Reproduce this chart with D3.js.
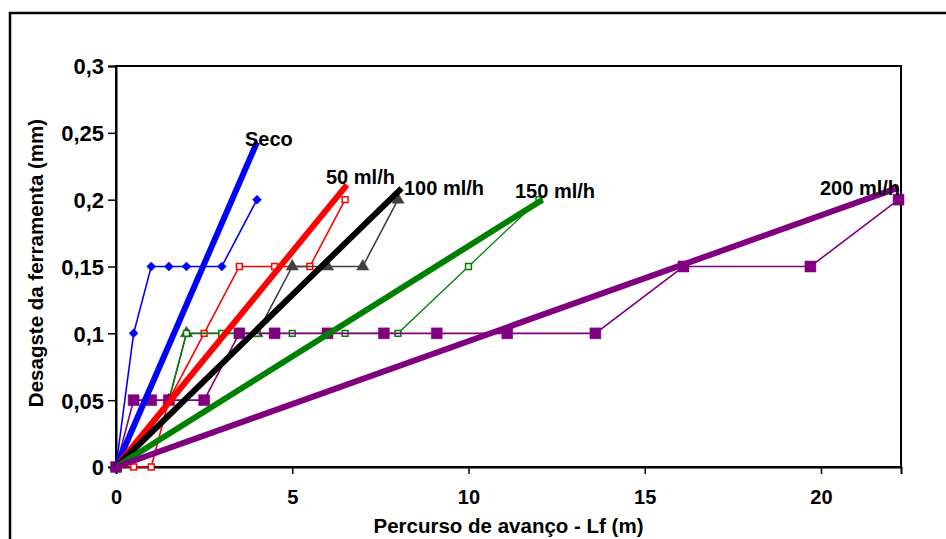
<!DOCTYPE html>
<html>
<head>
<meta charset="utf-8">
<script src="https://cdn.jsdelivr.net/npm/d3@7"></script>
<style>
  body { margin: 0; background: #fff; }
  text { font-family: Arial, "Liberation Sans", sans-serif; font-weight: bold; fill: #000; }
</style>
</head>
<body>
<div id="container"></div>
<script>
const w = 946;
const h = 539;

// axis ticks
const xTicks = [0, 5, 10, 15, 20];
const yTicks = [0, 0.05, 0.1, 0.15, 0.2, 0.25, 0.3];
const yTickLabels = ["0", "0,05", "0,1", "0,15", "0,2", "0,25", "0,3"];

// measured series (Lf in m, wear in mm)
const secoX = [0, 0.5, 1, 1.5, 2, 3, 4];
const secoY = [0, 0.1, 0.15, 0.15, 0.15, 0.15, 0.2];
const ml50X = [0, 0.5, 1, 1.5, 2.5, 3.5, 4.5, 5.5, 6.5];
const ml50Y = [0, 0, 0, 0.05, 0.1, 0.15, 0.15, 0.15, 0.2];
const ml100X = [0, 1.5, 2, 4, 5, 6, 7, 8];
const ml100Y = [0, 0.05, 0.1, 0.1, 0.15, 0.15, 0.15, 0.2];
const ml150X = [0, 1.5, 2, 3, 4, 5, 6.5, 8, 10, 12];
const ml150Y = [0, 0.05, 0.1, 0.1, 0.1, 0.1, 0.1, 0.1, 0.15, 0.2];
const ml200X = [0, 0.5, 1, 1.5, 2.5, 3.5, 4.5, 6, 7.6, 9.1, 11.1, 13.6, 16.1, 19.7, 22.2];
const ml200Y = [0, 0.05, 0.05, 0.05, 0.05, 0.1, 0.1, 0.1, 0.1, 0.1, 0.1, 0.1, 0.15, 0.15, 0.2];

// trend lines through the origin: end points
const seriesNames = ["Seco", "50 ml/h", "100 ml/h", "150 ml/h", "200 ml/h"];
const trendEndX = [4, 6.55, 8.1, 12.1, 22.2];
const trendEndY = [0.243, 0.211, 0.2085, 0.2, 0.209];

const colors = ["#0000ff", "#ff0000", "#404040", "#008000", "#800080"];
const trendColors = ["#0000ff", "#ff0000", "#000000", "#008000", "#800080"];

const svg = d3.select("#container").append("svg")
              .attr("width", w).attr("height", h);

svg.append("rect").attr("width", w).attr("height", h).attr("fill", "#fff");

// chart area border (runs off the right and bottom edges)
svg.append("rect")
   .attr("x", 10).attr("y", 13).attr("width", 960).attr("height", 560)
   .attr("fill", "none").attr("stroke", "#000").attr("stroke-width", 2.5);

const scaleX = d3.scaleLinear().domain([0, 22.27]).range([116, 901]);
const scaleY = d3.scaleLinear().domain([0, 0.3]).range([467, 66]);

// plot area frame
svg.append("rect")
   .attr("x", scaleX(0)).attr("y", scaleY(0.3))
   .attr("width", scaleX(22.27) - scaleX(0)).attr("height", scaleY(0) - scaleY(0.3))
   .attr("fill", "none").attr("stroke", "#000").attr("stroke-width", 2);

const yAxis = d3.axisLeft(scaleY).tickValues(yTicks).tickSize(8).tickPadding(4)
                .tickFormat((d, i) => yTickLabels[i]);
const xAxis = d3.axisBottom(scaleX).tickValues(xTicks).tickSize(7).tickPadding(16);

const yAxisGroup = svg.append("g")
   .attr("transform", "translate(" + scaleX(0) + ", 0)")
   .call(yAxis);
const xAxisGroup = svg.append("g")
   .attr("transform", "translate(0, " + scaleY(0) + ")")
   .call(xAxis);

[yAxisGroup, xAxisGroup].forEach(g => {
  g.select(".domain").attr("stroke", "#000").attr("stroke-width", 2);
  g.selectAll(".tick line").attr("stroke", "#000").attr("stroke-width", 1.5);
});
yAxisGroup.selectAll(".tick text").style("font-size", "22px").attr("dy", "0.36em");
xAxisGroup.selectAll(".tick text").style("font-size", "20px");

// measured series
const seriesX = [secoX, ml50X, ml100X, ml150X, ml200X];
const seriesY = [secoY, ml50Y, ml100Y, ml150Y, ml200Y];
const line = d3.line().x(d => scaleX(d[0])).y(d => scaleY(d[1]));

const symbols = [
  d3.symbol().type(d3.symbolSquare).size(40),
  d3.symbol().type(d3.symbolSquare).size(34),
  d3.symbol().type(d3.symbolTriangle).size(65),
  d3.symbol().type(d3.symbolSquare).size(34),
  d3.symbol().type(d3.symbolSquare).size(120)
];
const rotation = [45, 0, 0, 0, 0];
const hollow = [false, true, false, true, false];

seriesX.forEach((xs, s) => {
  const pts = xs.map((x, i) => [x, seriesY[s][i]]);
  svg.append("path")
     .datum(pts)
     .attr("fill", "none")
     .attr("stroke", colors[s])
     .attr("stroke-width", s === 3 ? 1.3 : 1.6)
     .attr("d", line);
  svg.selectAll(".mk" + s).data(pts).enter().append("path")
     .attr("class", "mk" + s)
     .attr("transform", d => "translate(" + scaleX(d[0]) + "," + scaleY(d[1]) + ") rotate(" + rotation[s] + ")")
     .attr("d", symbols[s])
     .attr("fill", hollow[s] ? "#fff" : colors[s])
     .attr("stroke", colors[s])
     .attr("stroke-width", hollow[s] ? 1.5 : 0.5);
});

// thick trend lines
trendEndX.forEach((x, s) => {
  svg.append("path")
     .datum([[0, 0], [x, trendEndY[s]]])
     .attr("fill", "none")
     .attr("stroke", trendColors[s])
     .attr("stroke-width", 6)
     .attr("d", line);
});

// series labels
const labelX = [245, 326, 404, 515, 820];
const labelY = [146, 184, 195, 198, 195];
svg.selectAll(".lbl").data(seriesNames).enter().append("text")
   .attr("class", "lbl")
   .attr("x", (d, i) => labelX[i])
   .attr("y", (d, i) => labelY[i])
   .style("font-size", "20px")
   .text(d => d);

// axis titles
svg.append("text")
   .attr("x", (scaleX(0) + scaleX(22.27)) / 2).attr("y", 533)
   .attr("text-anchor", "middle")
   .style("font-size", "20.5px")
   .text("Percurso de avanço - Lf (m)");

svg.append("text")
   .attr("transform", "translate(43, 263) rotate(-90)")
   .attr("text-anchor", "middle")
   .style("font-size", "20.5px")
   .text("Desagste da ferramenta (mm)");
</script>
</body>
</html>
